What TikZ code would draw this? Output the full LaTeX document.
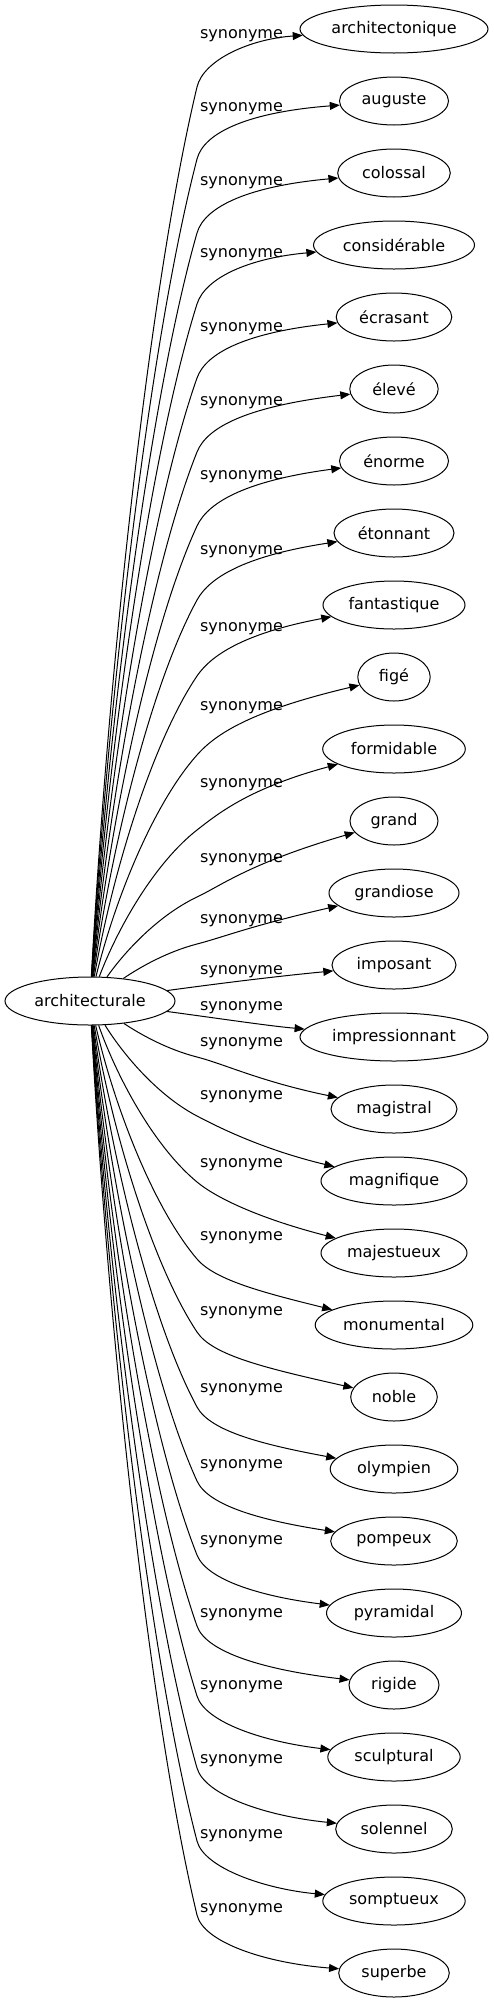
\documentclass[tikz,border=0pt]{standalone}
\usepackage{fontspec}
\setmainfont{DejaVu Sans}
\usetikzlibrary{shapes.geometric,arrows.meta,calc}
\begin{document}
\begin{tikzpicture}[x=0.75pt,y=-0.75pt,
  every node/.style={font=\fontsize{12pt}{14pt}\selectfont},
  tn/.style={draw, ellipse, line width=0.75pt, inner sep=0pt, minimum height=36pt, minimum width=#1*1.5pt},
  lab/.style={inner sep=0pt},
  edge/.style={line width=0.75pt, -{Triangle[length=7.5pt,width=6pt]}}]
\useasboundingbox (0,0) rectangle (493,2003);
\node[tn=85] (arch) at (90,1001) {architecturale};
\foreach \i/\w/\txt in {0/94/architectonique, 1/54.5/auguste, 2/56.3/colossal,
  3/80.5/considérable, 4/57.8/écrasant, 5/44.2/élevé, 6/54.5/énorme,
  7/60/étonnant, 8/71/fantastique, 9/36.2/figé, 10/71.3/formidable,
  11/44/grand, 12/65/grandiose, 13/62/imposant, 14/94/impressionnant,
  15/63/magistral, 16/73/magnifique, 17/73/majestueux, 18/78.8/monumental,
  19/43.3/noble, 20/63.8/olympien, 21/63.3/pompeux, 22/67.5/pyramidal,
  23/45/rigide, 24/66.2/sculptural, 25/58.3/solennel, 26/71.2/somptueux,
  27/55.3/superbe}
{
  \node[tn=\w] (t\i) at (394,{29+72*\i}) {\txt};
}
\foreach \i/\ly/\off/\qx/\qy in {0/33/54/250/6, 1/106/53/250/6, 2/180/53/250/6,
  3/252/52/250/6, 4/326/52/250/6, 5/400/52/250/6, 6/474/52/250/6,
  7/549/51/250/6, 8/626/50/250/6, 9/705/50/250/6, 10/782/48/250/6,
  11/857/40/250/6, 12/918/26/250/8,
  15/1041/16/262/41, 16/1094/22/265/56, 17/1162/20/265/58, 18/1235/24/265/58,
  19/1310/22/265/58, 20/1387/20/265/58, 21/1463/18/265/58, 22/1539/16/265/58,
  23/1612/14/265/58, 24/1684/12/265/58, 25/1758/10/265/58, 26/1833/8/265/56,
  27/1907/8/265/56}
{
  \pgfmathsetmacro\mby{\ly+\off}
  \pgfmathsetmacro\mdy{\mby-1001}
  \pgfmathsetmacro\mtt{1/sqrt((107/85)^2+(\mdy/24)^2)}
  \pgfmathsetmacro\msx{90+107*\mtt}
  \pgfmathsetmacro\msy{1001+\mdy*\mtt}
  \pgfmathsetmacro\mpx{\msx+0.15*(197-\msx)}
  \pgfmathsetmacro\mpy{\msy+0.35*(\mby-\msy)}
  \pgfmathsetmacro\mqx{197-0.45*(197-\msx)}
  \pgfmathsetmacro\mqy{\mby-0.22*(\mby-\msy)}
  \node[lab] (l\i) at (241.5,{\ly+3}) {synonyme};
  \coordinate (b\i) at (197,\mby);
  \coordinate (c\i) at (\mqx,\mqy);
  \draw[edge] (arch) .. controls (\mpx,\mpy) and (c\i) .. (b\i)
     .. controls ($(b\i)!-21pt!(c\i)$) and (\qx,{\ly+\qy}) .. (t\i);
}
\node[lab] (l13) at (241.5,972) {synonyme};
\node[lab] (l14) at (241.5,1008) {synonyme};
\draw[edge] (arch) .. controls (230,982) and (280,976) .. (t13);
\draw[edge] (arch) .. controls (230,1020) and (270,1026) .. (t14);
\end{tikzpicture}
\end{document}
